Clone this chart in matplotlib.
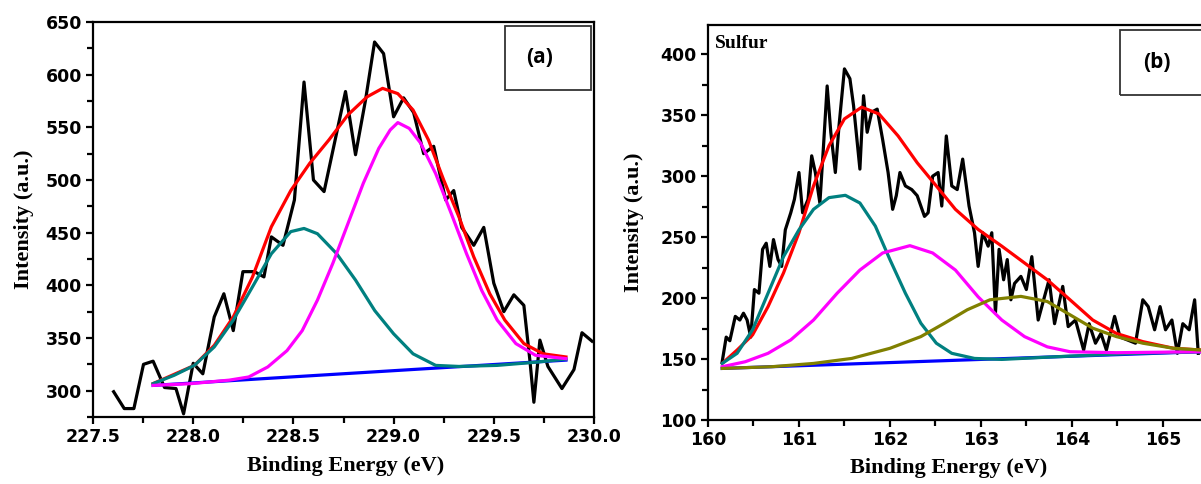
import matplotlib
matplotlib.use("Agg")
import matplotlib.pyplot as plt
from matplotlib.patches import Rectangle
from matplotlib.ticker import MultipleLocator

# ---------------- panel (a) : raw spectrum + fit ----------------
a_raw_x = [227.603, 227.656, 227.704, 227.752, 227.80, 227.857, 227.914, 227.952, 228.0, 228.048,
           228.105, 228.153, 228.2, 228.248, 228.305, 228.353, 228.39, 228.448, 228.505, 228.553,
           228.6, 228.653, 228.697, 228.76, 228.81, 228.86, 228.905, 228.95, 229.0, 229.05,
           229.1, 229.15, 229.2, 229.26, 229.3, 229.34, 229.4, 229.45, 229.5, 229.55,
           229.6, 229.65, 229.68, 229.7, 229.73, 229.77, 229.84, 229.9, 229.94, 229.99]
a_raw_y = [299, 283, 283, 325, 328, 303, 302, 278, 326, 316,
           370, 392, 357, 413, 413, 408, 446, 438, 481, 593,
           500, 489, 528, 584, 524, 576, 631, 620, 560, 578,
           564, 525, 532, 481, 490, 455, 438, 455, 402, 375,
           391, 381, 329, 289, 348, 323, 302, 320, 355, 347]

a_base_x = [227.80, 229.86]
a_base_y = [305, 329]

a_p1_x = [227.80, 227.905, 228.006, 228.105, 228.2, 228.296, 228.39, 228.487, 228.553, 228.62,
          228.716, 228.81, 228.906, 229.0, 229.097, 229.21, 229.326, 229.517, 229.708, 229.86]
a_p1_y = [306.7, 314.6, 324, 341.5, 367, 398.6, 430, 451, 454, 449,
          430, 405, 376, 354, 335, 324, 323, 324, 327, 330]

a_p2_x = [227.80, 227.99, 228.18, 228.277, 228.372, 228.468, 228.544, 228.62, 228.697, 228.773,
          228.849, 228.926, 228.983, 229.021, 229.078, 229.135, 229.21, 229.288, 229.364, 229.44,
          229.517, 229.61, 229.708, 229.86]
a_p2_y = [305, 306.7, 310, 313, 322.5, 338, 357, 386, 421, 459,
          497, 530, 547.5, 554.5, 549, 535, 506, 468, 430, 395,
          367, 344.7, 333.6, 330.4]

a_env_x = [227.80, 228.006, 228.105, 228.2, 228.296, 228.39, 228.487, 228.582, 228.677, 228.773,
           228.868, 228.945, 229.021, 229.097, 229.174, 229.25, 229.326, 229.4, 229.48, 229.555,
           229.65, 229.746, 229.86]
a_env_y = [306.7, 324, 343, 370, 408, 455.6, 490, 516, 538, 562,
           579, 587, 582, 566.5, 538, 500, 465, 427, 392, 367,
           344.7, 335, 332]

# ---------------- panel (b) : sulfur ----------------
b_raw_x = [160.156, 160.2, 160.24, 160.3, 160.35, 160.39, 160.43, 160.47, 160.51, 160.56,
           160.6, 160.64, 160.68, 160.72, 160.77, 160.81, 160.85, 160.91, 160.95, 161.0,
           161.04, 161.1, 161.14, 161.18, 161.23, 161.27, 161.31, 161.35, 161.4, 161.44,
           161.5, 161.56, 161.6, 161.67, 161.71, 161.75, 161.8, 161.86, 161.92, 161.98,
           162.03, 162.07, 162.11, 162.17, 162.24, 162.3, 162.38, 162.42, 162.47, 162.53,
           162.57, 162.62, 162.68, 162.74, 162.8, 162.87, 162.93, 162.97, 163.02, 163.08,
           163.12, 163.16, 163.2, 163.25, 163.29, 163.33, 163.37, 163.44, 163.5, 163.56,
           163.63, 163.69, 163.75, 163.81, 163.9, 163.96, 164.04, 164.13, 164.19, 164.26,
           164.32, 164.38, 164.47, 164.53, 164.61, 164.7, 164.78, 164.84, 164.91, 164.97,
           165.03, 165.1, 165.16, 165.22, 165.29, 165.35, 165.39]
b_raw_y = [147.8, 168, 165, 185, 182, 187.6, 182, 168, 207, 204,
           240, 245, 226, 248, 231.6, 226, 256, 270, 281, 303,
           270, 281, 316.7, 303, 278, 325, 374, 336, 303, 341,
           388, 380, 358, 305.8, 366, 336, 352.5, 355, 330, 303,
           272.8, 284, 303, 292, 289, 284, 267, 270, 300, 303,
           275.5, 333, 292, 289, 314, 275.5, 253.6, 226, 253.6, 242.6,
           253.6, 187.6, 240, 215, 231.6, 198.6, 212, 217.8, 207, 234,
           182, 198.6, 215, 179, 209.6, 176.6, 182, 157.4, 179, 163,
           171, 157.4, 185, 168, 165.7, 163, 198.6, 193, 174, 193,
           174, 182, 154.7, 179, 174, 198.6, 154.7]

b_base_x = [160.156, 165.42]
b_base_y = [142.3, 156]

b_p1_x = [160.156, 160.32, 160.49, 160.66, 160.83, 161.0, 161.16, 161.33, 161.51, 161.67,
          161.84, 162.0, 162.17, 162.34, 162.51, 162.68, 162.93, 163.23, 163.86, 164.7, 165.42]
b_p1_y = [146.4, 154.7, 174, 204, 234, 256, 272.8, 282.4, 284.3, 278,
          259, 231.6, 204, 179.4, 163, 154.7, 150.5, 149.7, 152, 154.7, 156]

b_p2_x = [160.156, 160.41, 160.66, 160.91, 161.16, 161.42, 161.67, 161.92, 162.22, 162.47,
          162.72, 162.97, 163.23, 163.48, 163.73, 163.98, 164.49, 165.42]
b_p2_y = [143.7, 147.8, 154.7, 165.7, 182, 204, 223, 237, 243, 237,
          223, 201, 182, 168.4, 160, 156, 155.2, 156]

b_p3_x = [160.156, 160.7, 161.16, 161.58, 162.0, 162.34, 162.6, 162.85, 163.1, 163.44,
          163.73, 163.98, 164.23, 164.49, 164.78, 165.12, 165.42]
b_p3_y = [142.3, 143.7, 146.4, 150.5, 158.8, 168.4, 179.4, 190.4, 198.6, 201.4,
          197.2, 186.3, 175.3, 168.4, 163, 158.8, 157.4]

b_env_x = [160.156, 160.32, 160.49, 160.66, 160.83, 161.0, 161.16, 161.33, 161.5, 161.69,
           161.88, 162.09, 162.3, 162.51, 162.72, 162.97, 163.23, 163.48, 163.73, 163.98,
           164.23, 164.49, 164.78, 165.12, 165.42]
b_env_y = [146.4, 157.4, 169.8, 193, 220.6, 253.6, 292, 325, 347, 356.6,
           351, 333, 311, 292, 272.8, 256.3, 242.6, 228.8, 215, 198.6,
           182, 171, 164.3, 158.8, 157.4]

TEAL = '#008080'
MAGENTA = '#ff00ff'
OLIVE = '#808000'
LW = 2.3

tick_font = {'family': 'DejaVu Sans', 'weight': 'bold', 'size': 12.5}
label_font = {'family': 'Liberation Serif', 'weight': 'bold', 'size': 16}


def style_axes(ax):
    for s in ax.spines.values():
        s.set_linewidth(1.6)
    ax.tick_params(which='major', direction='out', length=5, width=1.6, pad=3)
    ax.tick_params(which='minor', direction='out', length=4, width=1.6)
    ax.tick_params(top=False, right=False)
    for lab in ax.get_xticklabels() + ax.get_yticklabels():
        lab.set_fontproperties(matplotlib.font_manager.FontProperties(**tick_font))


fig = plt.figure(figsize=(12.01, 4.84), dpi=100)

# ---- (a)
ax1 = fig.add_axes([93 / 1201, 1 - 417 / 484, 501 / 1201, 395 / 484])
ax1.plot(a_raw_x, a_raw_y, color='black', lw=LW, zorder=2)
ax1.plot(a_base_x, a_base_y, color='blue', lw=LW, zorder=3)
ax1.plot(a_env_x, a_env_y, color='red', lw=LW, zorder=3)
ax1.plot(a_p1_x, a_p1_y, color=TEAL, lw=LW, zorder=4)
ax1.plot(a_p2_x, a_p2_y, color=MAGENTA, lw=LW, zorder=4)
ax1.set_xlim(227.5, 230.0)
ax1.set_ylim(275, 650)
ax1.set_xticks([227.5, 228.0, 228.5, 229.0, 229.5, 230.0])
ax1.set_xticklabels(['227.5', '228.0', '228.5', '229.0', '229.5', '230.0'])
ax1.xaxis.set_minor_locator(MultipleLocator(0.25))
ax1.set_yticks([300, 350, 400, 450, 500, 550, 600, 650])
ax1.yaxis.set_minor_locator(MultipleLocator(25))
style_axes(ax1)
ax1.set_xlabel('Binding Energy (eV)', **label_font)
ax1.set_ylabel('Intensity (a.u.)', **label_font)
ax1.xaxis.set_label_coords(0.505, -0.1)
ax1.yaxis.set_label_coords(-0.118, 0.5)
ax1.add_patch(Rectangle((0.822, 0.828), 0.172, 0.162, transform=ax1.transAxes,
                        fill=False, edgecolor='#333333', lw=1.3, zorder=5))
ax1.text(0.892, 0.909, '(a)', transform=ax1.transAxes, ha='center', va='center',
         fontsize=15, fontweight='bold', family='Open Sans')

# ---- (b)
ax2 = fig.add_axes([708 / 1201, 1 - 420 / 484, 493 / 1201, 395 / 484])
ax2.plot(b_raw_x, b_raw_y, color='black', lw=LW, zorder=2)
ax2.plot(b_base_x, b_base_y, color='blue', lw=LW, zorder=3)
ax2.plot(b_env_x, b_env_y, color='red', lw=LW, zorder=3)
ax2.plot(b_p1_x, b_p1_y, color=TEAL, lw=LW, zorder=4)
ax2.plot(b_p2_x, b_p2_y, color=MAGENTA, lw=LW, zorder=4)
ax2.plot(b_p3_x, b_p3_y, color=OLIVE, lw=LW, zorder=4)
ax2.set_xlim(160, 165.42)
ax2.set_ylim(100, 424)
ax2.set_xticks([160, 161, 162, 163, 164, 165])
ax2.xaxis.set_minor_locator(MultipleLocator(0.5))
ax2.set_yticks([100, 150, 200, 250, 300, 350, 400])
ax2.yaxis.set_minor_locator(MultipleLocator(25))
style_axes(ax2)
ax2.spines['right'].set_visible(False)
ax2.set_xlabel('Binding Energy (eV)', **label_font)
ax2.set_ylabel('Intensity (a.u.)', **label_font)
ax2.xaxis.set_label_coords(0.489, -0.095)
ax2.yaxis.set_label_coords(-0.13, 0.5)
ax2.text(0.014, 0.975, 'Sulfur', transform=ax2.transAxes, ha='left', va='top',
         fontsize=14, fontweight='bold', family='Liberation Serif')
ax2.add_patch(Rectangle((0.836, 0.823), 0.3, 0.164, transform=ax2.transAxes,
                        fill=False, edgecolor='#333333', lw=1.3, zorder=5, clip_on=False))
ax2.text(0.911, 0.905, '(b)', transform=ax2.transAxes, ha='center', va='center',
         fontsize=15, fontweight='bold', family='Open Sans')

fig.savefig('out.png', dpi=100)
